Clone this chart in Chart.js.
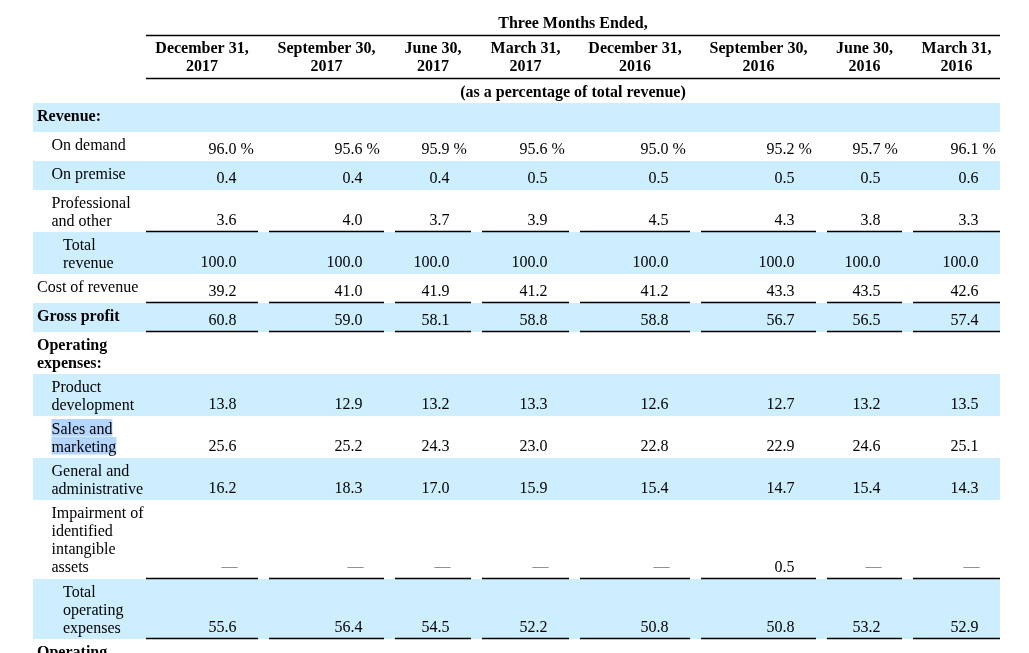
<!DOCTYPE html>
<html><head><meta charset="utf-8">
<script src="https://cdn.jsdelivr.net/npm/chart.js@4.4.0/dist/chart.umd.min.js"></script>
<style>html,body{margin:0;padding:0;background:#fff;overflow:hidden}#wrap{width:1029px;height:653px;position:relative}</style>
</head><body><div id="wrap"><canvas id="c"></canvas></div>
<script>
// ---------- DATA ----------
const groupTitle = "Three Months Ended,";
const unitNote = "(as a percentage of total revenue)";
const periodMonths = ["December 31,","September 30,","June 30,","March 31,","December 31,","September 30,","June 30,","March 31,"];
const periodYears = ["2017","2017","2017","2017","2016","2016","2016","2016"];
const rowLabels = [["Revenue:"],["On demand"],["On premise"],["Professional","and other"],["Total","revenue"],["Cost of revenue"],["Gross profit"],["Operating","expenses:"],["Product","development"],["Sales and","marketing"],["General and","administrative"],["Impairment of","identified","intangible","assets"],["Total","operating","expenses"],["Operating"]];
const onDemand = [96.0,95.6,95.9,95.6,95.0,95.2,95.7,96.1];
const onPremise = [0.4,0.4,0.4,0.5,0.5,0.5,0.5,0.6];
const professionalOther = [3.6,4.0,3.7,3.9,4.5,4.3,3.8,3.3];
const totalRevenue = [100.0,100.0,100.0,100.0,100.0,100.0,100.0,100.0];
const costOfRevenue = [39.2,41.0,41.9,41.2,41.2,43.3,43.5,42.6];
const grossProfit = [60.8,59.0,58.1,58.8,58.8,56.7,56.5,57.4];
const productDevelopment = [13.8,12.9,13.2,13.3,12.6,12.7,13.2,13.5];
const salesMarketing = [25.6,25.2,24.3,23.0,22.8,22.9,24.6,25.1];
const generalAdmin = [16.2,18.3,17.0,15.9,15.4,14.7,15.4,14.3];
const impairment = [null,null,null,null,null,0.5,null,null];
const totalOpex = [55.6,56.4,54.5,52.2,50.8,50.8,53.2,52.9];
const rowValues = [null,onDemand,onPremise,professionalOther,totalRevenue,costOfRevenue,grossProfit,null,productDevelopment,salesMarketing,generalAdmin,impairment,totalOpex,null];

// ---------- LAYOUT / STYLE ----------
const boldRows = [0,6,7,13];
const indentLevel = [0,1,1,1,2,0,0,0,1,1,1,1,2,0];
const shadedRows = [0,2,4,6,8,10,12];
const underlineRows = [3,5,6,11,12];
const percentRows = [1];
const highlightRows = [9];
const lineHeights = {1:29,2:42,3:60,4:79};
const colEdges = [[146,258],[269,384],[395,471],[482,569],[580,690],[701,816],[827,902],[913,1000]];
const bandX = [33,1000];
const indentX = [37,51.5,63];
const tableTop = 103;
const FONT = '"Liberation Serif","Times New Roman",serif';
const BAND = 'rgb(204,238,255)';

const tablePlugin = {
  id:'table',
  afterDraw(chart){
    const ctx = chart.ctx, xs = chart.scales.x, ys = chart.scales.y;
    const X = v => xs.getPixelForValue(v), Y = v => ys.getPixelForValue(v);
    ctx.save();
    // row geometry
    const tops = []; let t = tableTop;
    rowLabels.forEach(l => { tops.push(t); t += lineHeights[l.length] || 40; });
    const bottoms = tops.map((tp,i)=> tp + (lineHeights[rowLabels[i].length]||40));
    // bands
    ctx.fillStyle = BAND;
    shadedRows.forEach(r => { ctx.fillRect(X(bandX[0]), Y(tops[r]), X(bandX[1])-X(bandX[0]), Y(bottoms[r])-Y(tops[r])); });
    // header
    ctx.fillStyle = '#000'; ctx.textBaseline = 'alphabetic';
    ctx.font = 'bold 16px ' + FONT; ctx.textAlign = 'center';
    const mid = (colEdges[0][0] + colEdges[7][1]) / 2;
    ctx.fillText(groupTitle, X(mid), Y(28));
    ctx.fillText(unitNote, X(mid), Y(97));
    colEdges.forEach((e,i)=>{
      const cx = (e[0]+e[1])/2;
      ctx.fillText(periodMonths[i], X(cx), Y(53));
      ctx.fillText(periodYears[i], X(cx), Y(71));
    });
    ctx.strokeStyle = '#000'; ctx.lineWidth = 1.3;
    [35,78].forEach(yv => { ctx.beginPath(); ctx.moveTo(X(colEdges[0][0]), Y(yv)+0.5); ctx.lineTo(X(colEdges[7][1]), Y(yv)+0.5); ctx.stroke(); });
    // labels
    rowLabels.forEach((lines,r)=>{
      ctx.font = (boldRows.includes(r)?'bold ':'') + '16px ' + FONT;
      ctx.textAlign = 'left';
      lines.forEach((s,k)=>{
        const bx = X(indentX[indentLevel[r]]), by = Y(tops[r] + 17.5 + 18*k);
        if (highlightRows.includes(r)) {
          ctx.fillStyle = 'rgb(180,213,254)';
          ctx.fillRect(bx, by-14.5, ctx.measureText(s).width, 17.5);
        }
        ctx.fillStyle = '#000';
        ctx.fillText(s, bx, by);
      });
    });
    // values
    ctx.font = '16px ' + FONT;
    rowValues.forEach((vals,r)=>{
      if (!vals) return;
      const by = Y(bottoms[r] - 7);
      vals.forEach((v,i)=>{
        const rx = X(colEdges[i][1] - 21.5);
        ctx.textAlign = 'right';
        if (v === null) { ctx.fillStyle = '#808080'; ctx.fillText('\u2014', rx+1, by-1); ctx.fillStyle = '#000'; return; }
        ctx.fillText(v.toFixed(1), rx, by);
        if (percentRows.includes(r)) { ctx.textAlign = 'left'; ctx.fillText(' %', rx, by); }
      });
    });
    // underlines
    ctx.lineWidth = 1.3;
    underlineRows.forEach(r => {
      const yv = Y(bottoms[r]);
      colEdges.forEach(e => { ctx.beginPath(); ctx.moveTo(X(e[0]), yv-0.5); ctx.lineTo(X(e[1]), yv-0.5); ctx.stroke(); });
    });
    ctx.restore();
  }
};

new Chart(document.getElementById('c'), {
  type:'scatter',
  data:{datasets:[{data:[],pointRadius:0}]},
  options:{
    responsive:true, maintainAspectRatio:false, animation:false,
    layout:{padding:0},
    plugins:{legend:{display:false}, tooltip:{enabled:false}},
    scales:{
      x:{type:'linear',min:0,max:1029,display:false},
      y:{type:'linear',min:0,max:653,reverse:true,display:false}
    }
  },
  plugins:[tablePlugin]
});
</script></body></html>
